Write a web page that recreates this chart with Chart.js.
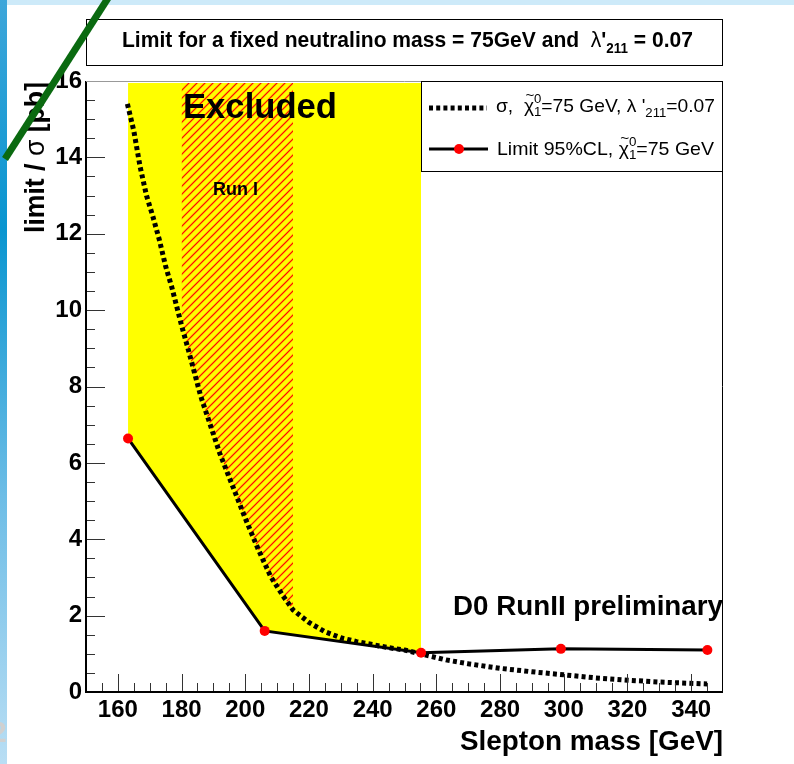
<!DOCTYPE html>
<html>
<head>
<meta charset="utf-8">
<script src="https://cdn.jsdelivr.net/npm/chart.js@4/dist/chart.umd.min.js"></script>
<style>
  html, body { margin: 0; padding: 0; background: #fff; }
  canvas { display: block; }
</style>
</head>
<body>
<canvas id="c" width="794" height="764"></canvas>
<script>
// theory cross section, sigma(slepton mass) for m(chi1) = 75 GeV, lambda'211 = 0.07
const sigmaMass = [163, 165, 167, 169, 171, 173, 175, 177, 180, 182, 184, 186, 188, 192, 196, 200,
  204, 208, 212, 215, 220, 225, 230, 235, 240, 245, 250, 255, 263, 270, 280, 290, 300, 310, 320, 330, 345];
const sigmaXsec = [15.4, 14.7, 13.75, 13.0, 12.45, 11.85, 11.15, 10.58, 9.6, 9.0, 8.38, 7.75, 7.25, 6.25, 5.4, 4.55,
  3.75, 3.02, 2.5, 2.15, 1.82, 1.58, 1.42, 1.32, 1.24, 1.16, 1.1, 1.0, 0.84, 0.74, 0.62, 0.53, 0.45, 0.37, 0.31, 0.26, 0.21];

// 95% CL limit points
const limitMass = [163.2, 206.1, 255.2, 299.1, 345.1];
const limitValue = [6.64, 1.60, 1.03, 1.13, 1.10];

// excluded band top and the Run I mass window
const excludedTop = 15.95;
const runOneLow = 180;
const runOneHigh = 215;

const xTickLabels = [160, 180, 200, 220, 240, 260, 280, 300, 320, 340];
const yTickLabels = [0, 2, 4, 6, 8, 10, 12, 14, 16];

const pts = (xs, ys) => xs.map((x, i) => ({ x: x, y: ys[i] }));

// excluded region: everything above the limit where the limit is below sigma
const excludedPts = pts(limitMass, limitValue).filter(p => p.x <= limitMass[2]);
// Run I region: above sigma in its mass window
const runOnePts = pts(sigmaMass, sigmaXsec).filter(p => p.x >= runOneLow && p.x <= runOneHigh);

// red / orange diagonal hatch
function hatchPattern() {
  const c = document.createElement('canvas');
  c.width = 8; c.height = 8;
  const g = c.getContext('2d');
  const diag = () => {
    g.beginPath();
    g.moveTo(0, 8); g.lineTo(8, 0);
    g.moveTo(-1, 1); g.lineTo(1, -1);
    g.moveTo(7, 9); g.lineTo(9, 7);
    g.stroke();
  };
  g.strokeStyle = '#ff9000';
  g.lineWidth = 2;
  diag();
  g.strokeStyle = '#ff0000';
  g.lineWidth = 0.9;
  diag();
  return g.createPattern(c, 'repeat');
}

const FONT = '"Liberation Sans", Arial, Helvetica, sans-serif';

// draws a run of text pieces (sub/superscripts, tilde accents), squeezed to a given width
function drawRich(ctx, parts, x, y, width) {
  let cur = 0, lastX = 0, lastW = 0;
  parts.forEach(p => {
    ctx.font = p.font;
    p.w = ctx.measureText(p.t).width;
    if (p.over) {
      p.x = lastX;
      cur = lastX + Math.max(lastW, p.w);
    } else {
      p.x = cur;
      lastX = cur; lastW = p.w;
      cur += p.w;
    }
  });
  const sx = width ? width / cur : 1;
  ctx.save();
  ctx.translate(x, y);
  ctx.scale(sx, 1);
  ctx.textAlign = 'left';
  ctx.textBaseline = 'alphabetic';
  parts.forEach(p => {
    ctx.font = p.font;
    ctx.fillText(p.t, p.x, p.dy || 0);
    if (p.tilde) {
      ctx.font = p.tilde;
      ctx.textAlign = 'center';
      ctx.fillText('~', p.x + p.w / 2 + 1, (p.dy || 0) - p.tildeDy);
      ctx.textAlign = 'left';
    }
  });
  ctx.restore();
}

const decor = {
  id: 'decor',
  beforeDraw(chart) {
    const ctx = chart.ctx;
    ctx.save();
    ctx.fillStyle = '#fff';
    ctx.fillRect(0, 0, 794, 764);
    // slide frame: light band on top, blue strip on the left
    ctx.fillStyle = '#cdeaf9';
    ctx.fillRect(0, 0, 794, 5);
    const grad = ctx.createLinearGradient(0, 0, 0, 764);
    grad.addColorStop(0, '#3ea6da');
    grad.addColorStop(0.3, '#0995d0');
    grad.addColorStop(0.65, '#6dbde6');
    grad.addColorStop(1, '#b9def4');
    ctx.fillStyle = grad;
    ctx.fillRect(0, 0, 7, 764);
    ctx.fillStyle = '#d0d0d0';
    ctx.font = 'bold 30px ' + FONT;
    ctx.fillText('2', -10, 742);
    ctx.restore();
  },
  afterDatasetsDraw(chart) {
    const ctx = chart.ctx;
    const a = chart.chartArea;
    const xs = chart.scales.x, ys = chart.scales.y;
    ctx.save();

    // inward ticks
    ctx.strokeStyle = '#333';
    ctx.lineWidth = 1;
    ctx.beginPath();
    for (let v = 155; v < 350; v += 5) {
      const px = Math.round(xs.getPixelForValue(v)) + 0.5;
      const len = v % 20 === 0 ? 18 : 9;
      ctx.moveTo(px, a.bottom); ctx.lineTo(px, a.bottom - len);
    }
    for (let v = 0.5; v < 16; v += 0.5) {
      const py = Math.round(ys.getPixelForValue(v)) + 0.5;
      const len = v % 2 === 0 ? 19 : 9;
      ctx.moveTo(a.left, py); ctx.lineTo(a.left + len, py);
    }
    ctx.stroke();

    // frame
    ctx.strokeStyle = '#000';
    ctx.lineWidth = 2;
    ctx.beginPath();
    ctx.moveTo(a.left, a.top); ctx.lineTo(a.left, a.bottom); ctx.lineTo(a.right, a.bottom);
    ctx.stroke();
    ctx.lineWidth = 1;
    ctx.beginPath();
    ctx.moveTo(a.right - 0.5, a.bottom); ctx.lineTo(a.right - 0.5, a.top);
    ctx.stroke();
    ctx.strokeStyle = '#999';
    ctx.beginPath();
    ctx.moveTo(a.left, a.top + 0.5); ctx.lineTo(a.right, a.top + 0.5);
    ctx.stroke();

    ctx.fillStyle = '#000';
    ctx.textBaseline = 'alphabetic';

    // labels inside the plot
    drawRich(ctx, [{ t: 'Excluded', font: 'bold 35px ' + FONT }], 183, 118, 154);
    ctx.font = 'bold 18px ' + FONT;
    ctx.fillText('Run I', 213, 195);
    drawRich(ctx, [{ t: 'D0 RunII preliminary', font: 'bold 27px ' + FONT }], 453, 615, 270);

    // legend box
    ctx.fillStyle = '#fff';
    ctx.fillRect(421.5, 81.5, 301, 90);
    ctx.strokeStyle = '#000';
    ctx.lineWidth = 1;
    ctx.strokeRect(421.5, 81.5, 301, 90);
    ctx.lineWidth = 5;
    ctx.setLineDash([4, 3.2]);
    ctx.beginPath();
    ctx.moveTo(429, 108); ctx.lineTo(487, 108);
    ctx.stroke();
    ctx.setLineDash([]);
    ctx.lineWidth = 3;
    ctx.beginPath();
    ctx.moveTo(429, 149); ctx.lineTo(488, 149);
    ctx.stroke();
    ctx.fillStyle = '#ff0000';
    ctx.beginPath();
    ctx.arc(459, 149, 5, 0, Math.PI * 2);
    ctx.fill();

    ctx.fillStyle = '#000';
    const reg = '19px ' + FONT, small = '13px ' + FONT, tl = '15px ' + FONT;
    drawRich(ctx, [
      { t: 'σ,  ', font: reg },
      { t: 'χ', font: reg, tilde: tl, tildeDy: 12 },
      { t: '0', font: small, dy: -9 },
      { t: '1', font: small, dy: 4, over: true },
      { t: '=75 GeV, λ', font: reg },
      { t: ' \'', font: reg },
      { t: '211', font: small, dy: 5 },
      { t: '=0.07', font: reg }
    ], 496, 112, 219);
    drawRich(ctx, [
      { t: 'Limit 95%CL, ', font: reg },
      { t: 'χ', font: reg, tilde: tl, tildeDy: 12 },
      { t: '0', font: small, dy: -9 },
      { t: '1', font: small, dy: 4, over: true },
      { t: '=75 GeV', font: reg }
    ], 497, 155, 217);

    // title box
    ctx.strokeStyle = '#000';
    ctx.lineWidth = 1;
    ctx.strokeRect(86.5, 19.5, 636, 46);
    const tb = 'bold 22px ' + FONT;
    drawRich(ctx, [
      { t: 'Limit for a fixed neutralino mass = 75GeV and  ', font: tb },
      { t: 'λ', font: '22px ' + FONT },
      { t: '\'', font: tb },
      { t: '211', font: 'bold 14px ' + FONT, dy: 6 },
      { t: ' = 0.07', font: tb }
    ], 122, 47, 571);

    // axis titles
    drawRich(ctx, [{ t: 'Slepton mass [GeV]', font: 'bold 27px ' + FONT }], 460, 750, 263);
    ctx.save();
    ctx.translate(44, 233);
    ctx.rotate(-Math.PI / 2);
    drawRich(ctx, [
      { t: 'limit / ', font: 'bold 27px ' + FONT },
      { t: 'σ', font: '27px ' + FONT },
      { t: ' [pb]', font: 'bold 27px ' + FONT }
    ], 0, 0, 151);
    ctx.restore();

    // green pointer stroke across the corner
    ctx.strokeStyle = '#0a6a10';
    ctx.lineWidth = 7;
    ctx.lineCap = 'butt';
    ctx.beginPath();
    ctx.moveTo(5, 159);
    ctx.lineTo(110, -5);
    ctx.stroke();

    ctx.restore();
  }
};

const tickFont = { family: FONT, size: 24, weight: 'bold' };

new Chart(document.getElementById('c'), {
  type: 'scatter',
  data: {
    datasets: [
      {
        label: 'Limit 95%CL',
        data: pts(limitMass, limitValue),
        showLine: true,
        borderColor: '#000',
        borderWidth: 3,
        pointRadius: 5,
        pointBackgroundColor: '#ff0000',
        pointBorderWidth: 0,
        tension: 0,
        fill: false
      },
      {
        label: 'sigma',
        data: pts(sigmaMass, sigmaXsec),
        showLine: true,
        borderColor: '#000',
        borderWidth: 5,
        borderDash: [4, 3.2],
        borderCapStyle: 'butt',
        pointRadius: 0,
        tension: 0,
        fill: false
      },
      {
        label: 'Run I',
        data: runOnePts,
        showLine: true,
        borderWidth: 0,
        borderColor: 'rgba(0,0,0,0)',
        pointRadius: 0,
        backgroundColor: hatchPattern(),
        fill: { value: excludedTop }
      },
      {
        label: 'Excluded',
        data: excludedPts,
        showLine: true,
        borderWidth: 0,
        borderColor: 'rgba(0,0,0,0)',
        pointRadius: 0,
        backgroundColor: '#ffff00',
        fill: { value: excludedTop }
      }
    ]
  },
  options: {
    responsive: false,
    animation: false,
    devicePixelRatio: 1,
    layout: { padding: { top: 81, right: 71, left: 0, bottom: 0 } },
    plugins: { legend: { display: false }, tooltip: { enabled: false } },
    scales: {
      x: {
        type: 'linear',
        min: 150,
        max: 350,
        grid: { display: false, drawTicks: false },
        border: { display: false },
        ticks: { font: tickFont, color: '#000', padding: 4, maxRotation: 0, autoSkip: false },
        afterBuildTicks: s => { s.ticks = xTickLabels.map(v => ({ value: v })); },
        afterFit: s => { s.height = 72; }
      },
      y: {
        type: 'linear',
        min: 0,
        max: 16,
        grid: { display: false, drawTicks: false },
        border: { display: false },
        ticks: { font: tickFont, color: '#000', padding: 4, autoSkip: false },
        afterBuildTicks: s => { s.ticks = yTickLabels.map(v => ({ value: v })); },
        afterFit: s => { s.width = 86; }
      }
    }
  },
  plugins: [decor]
});
</script>
</body>
</html>
